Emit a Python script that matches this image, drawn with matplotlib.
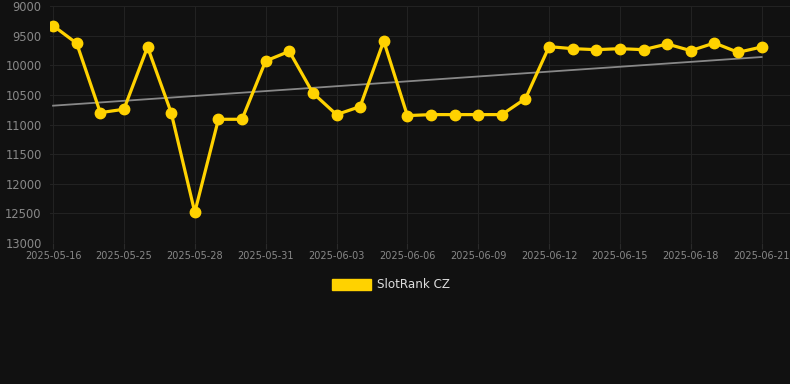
import numpy as np
import matplotlib
matplotlib.use("Agg")
import matplotlib.pyplot as plt
from matplotlib.patches import Patch

# dates shown on the x axis (one point per entry)
dates = ["2025-05-16", "2025-05-23", "2025-05-24", "2025-05-25", "2025-05-26",
         "2025-05-27", "2025-05-28", "2025-05-29", "2025-05-30", "2025-05-31",
         "2025-06-01", "2025-06-02", "2025-06-03", "2025-06-04", "2025-06-05",
         "2025-06-06", "2025-06-07", "2025-06-08", "2025-06-09", "2025-06-10",
         "2025-06-11", "2025-06-12", "2025-06-13", "2025-06-14", "2025-06-15",
         "2025-06-16", "2025-06-17", "2025-06-18", "2025-06-19", "2025-06-20",
         "2025-06-21"]

# rank values
rank = [9332, 9630, 10800, 10743, 9692, 10800, 12481, 10912, 10912, 9928,
        9765, 10468, 10833, 10698, 9590, 10850, 10833, 10833, 10833, 10833,
        10563, 9686, 9720, 9737, 9720, 9737, 9641, 9754, 9624, 9782, 9692]

bg = "#111111"
gold = "#FFD200"

fig = plt.figure(figsize=(7.9, 3.84), dpi=100, facecolor=bg)
ax = fig.add_axes([50 / 790, 1 - 243 / 384, 740 / 790, 237 / 384], facecolor=bg)

x = np.arange(len(rank))
ax.plot(x, rank, color=gold, lw=2.3, marker="o", ms=7.5, zorder=3)

# linear trend
k, b = np.polyfit(x, rank, 1)
ax.plot(x, k * x + b, color="#888888", lw=1.3, zorder=2)

ax.set_ylim(13000, 9000)
ax.set_yticks(range(9000, 13001, 500))
ax.set_xlim(-0.13, 31.2)
ax.set_xticks(x[::3])
ax.set_xticklabels(dates[::3])

ax.grid(True, color="#222222", lw=0.8)
for s in ax.spines.values():
    s.set_visible(False)
ax.tick_params(axis="y", colors="#888888", labelsize=8.3, length=0, pad=6)
ax.tick_params(axis="x", colors="#2a2a2a", labelcolor="#888888", labelsize=7, length=4, pad=2)

fig.legend(handles=[Patch(facecolor=gold, edgecolor=gold, label="SlotRank CZ")],
           loc="center", bbox_to_anchor=(391 / 790, 1 - 285 / 384), frameon=False,
           labelcolor="#dddddd", fontsize=8.6, handlelength=3.3, handleheight=1.0,
           handletextpad=0.5)

fig.savefig("out.png", dpi=100, facecolor=bg)
